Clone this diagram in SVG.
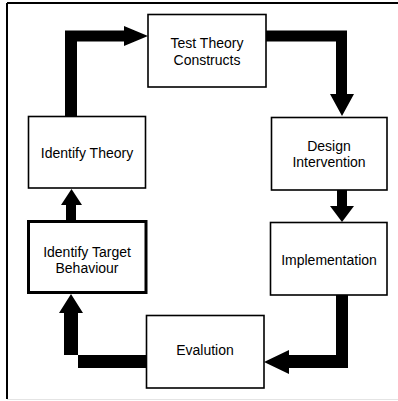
<svg xmlns="http://www.w3.org/2000/svg" width="398" height="401" viewBox="0 0 398 401">
  <style>
    .box { fill: #ffffff; stroke: #000000; stroke-width: 1.6; }
    .box.bold { stroke-width: 3; }
    .label { font-family: "Liberation Sans", Arial, sans-serif; font-size: 14px; fill: #000000; text-anchor: middle; }
    .arrow { fill: #000000; stroke: none; }
  </style>
  <rect x="0" y="0" width="398" height="401" fill="#ffffff"/>
  <!-- frame -->
  <g id="frame">
    <line x1="7" y1="3" x2="398" y2="3" stroke="#000" stroke-width="2"/>
    <line x1="7" y1="3" x2="7" y2="399" stroke="#000" stroke-width="2"/>
    <line x1="7" y1="399.5" x2="398" y2="399.5" stroke="#e4e4e4" stroke-width="1"/>
  </g>
  <!-- connectors -->
  <g id="connectors">
    <polygon class="arrow" points="65,116 65,30.5 124,30.5 124,26 148,36 124,46 124,41.5 77,41.5 77,116"/>
    <polygon class="arrow" points="266,30.5 347,30.5 347,94 354,94 342,116 330,94 336,94 336,41.5 266,41.5"/>
    <polygon class="arrow" points="337,190 347,190 347,206 354,206 342,222 330,206 337,206"/>
    <polygon class="arrow" points="336,295 348,295 348,368 289,368 289,374 264,362 289,350 289,355 336,355"/>
    <polygon class="arrow" points="146,355 146,368 78,368 78,313 83,313 71,294 59,313 64,313 64,355"/>
    <polygon class="arrow" points="66,221 66,205 61,205 71.5,189 82,205 76,205 76,221"/>
  </g>
  <!-- nodes -->
  <g id="test-theory-constructs">
    <rect class="box" x="148" y="14.5" width="118" height="72.5"/>
    <text class="label" x="207" y="48">Test Theory</text>
    <text class="label" x="207" y="65">Constructs</text>
  </g>
  <g id="identify-theory">
    <rect class="box" x="28.5" y="116.5" width="117" height="71.5"/>
    <text class="label" x="87" y="158">Identify Theory</text>
  </g>
  <g id="design-intervention">
    <rect class="box" x="271.5" y="117.5" width="115.5" height="72.5"/>
    <text class="label" x="329" y="151">Design</text>
    <text class="label" x="329" y="167">Intervention</text>
  </g>
  <g id="implementation">
    <rect class="box" x="270.5" y="222.5" width="116.5" height="72.5"/>
    <text class="label" x="329" y="265">Implementation</text>
  </g>
  <g id="evalution">
    <rect class="box" x="146.5" y="315.5" width="117.5" height="72.5"/>
    <text class="label" x="205" y="355">Evalution</text>
  </g>
  <g id="identify-target-behaviour">
    <rect class="box bold" x="28.5" y="221.5" width="117.5" height="71"/>
    <text class="label" x="87" y="257">Identify Target</text>
    <text class="label" x="87" y="273">Behaviour</text>
  </g>
</svg>
